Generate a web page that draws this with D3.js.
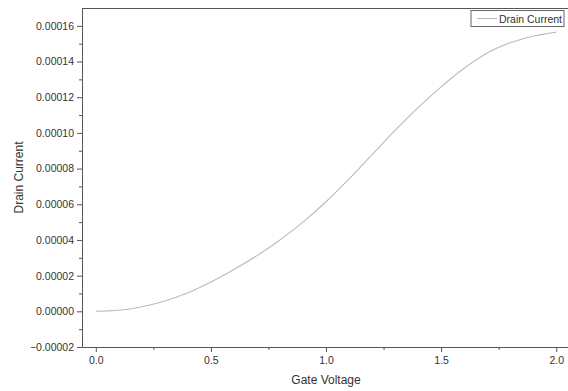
<!DOCTYPE html>
<html>
<head>
<meta charset="utf-8">
<script src="https://cdn.jsdelivr.net/npm/d3@7"></script>
<style>
  body { margin: 0; background: #fff; }
  text { font-family: 'Liberation Sans', Arial, sans-serif; fill: #333; }
</style>
</head>
<body>
<div id="chart"></div>
<script>
const gateVoltage = [0.0, 0.1, 0.2, 0.3, 0.4, 0.5, 0.6, 0.7, 0.8, 0.9, 1.0,
  1.1, 1.2, 1.3, 1.4, 1.5, 1.6, 1.7, 1.8, 1.9, 2.0]
const drainCurrent = [0, 0.0000006, 0.0000026, 0.0000058, 0.0000104, 0.0000164,
  0.0000234, 0.0000312, 0.00004, 0.00005, 0.0000614, 0.0000742, 0.0000878,
  0.0001014, 0.0001142, 0.0001258, 0.0001362, 0.0001448, 0.0001505, 0.0001542, 0.0001565]
const xTicks = [0, 0.5, 1.0, 1.5, 2.0]
const xMinorTicks = [0.25, 0.75, 1.25, 1.75]
const yTicks = [-0.00002, 0, 0.00002, 0.00004, 0.00006, 0.00008, 0.0001, 0.00012, 0.00014, 0.00016]
const yMinorTicks = [-0.00001, 0.00001, 0.00003, 0.00005, 0.00007, 0.00009, 0.00011, 0.00013, 0.00015]
const seriesName = 'Drain Current'

const data = gateVoltage.map((v, i) => ({ v: v, i: drainCurrent[i] }))

const width = 568
const height = 391
const margin = { top: 8, left: 82, right: -2, bottom: 44 }

const svg = d3
  .select('#chart')
  .append('svg')
  .attr('width', width)
  .attr('height', height)

const x = d3
  .scaleLinear()
  .domain([-0.06, 2.06])
  .range([margin.left, width - margin.right])

const y = d3
  .scaleLinear()
  .domain([-0.00002, 0.00017])
  .range([height - margin.bottom, margin.top])

const axisColor = '#555'

// top frame line
svg
  .append('line')
  .attr('x1', x.range()[0])
  .attr('x2', x.range()[1])
  .attr('y1', margin.top + 0.5)
  .attr('y2', margin.top + 0.5)
  .attr('stroke', axisColor)

// minor ticks first
svg
  .append('g')
  .attr('transform', 'translate(0,' + (height - margin.bottom) + ')')
  .call(d3.axisBottom(x).tickValues(xMinorTicks).tickSize(3).tickSizeOuter(0).tickFormat(''))
  .call(g => g.select('.domain').remove())
  .selectAll('line')
  .attr('stroke', axisColor)

svg
  .append('g')
  .attr('transform', 'translate(' + margin.left + ',0)')
  .call(d3.axisLeft(y).tickValues(yMinorTicks).tickSize(3).tickSizeOuter(0).tickFormat(''))
  .call(g => g.select('.domain').remove())
  .selectAll('line')
  .attr('stroke', axisColor)

const xAxis = d3
  .axisBottom(x)
  .tickValues(xTicks)
  .tickSize(5)
  .tickSizeOuter(0)
  .tickPadding(5)
  .tickFormat(d3.format('.1f'))

const yAxis = d3
  .axisLeft(y)
  .tickValues(yTicks)
  .tickSize(5)
  .tickSizeOuter(0)
  .tickPadding(3)
  .tickFormat(d3.format('.5f'))

const gx = svg
  .append('g')
  .attr('transform', 'translate(0,' + (height - margin.bottom) + ')')
  .call(xAxis)

const gy = svg
  .append('g')
  .attr('transform', 'translate(' + margin.left + ',0)')
  .call(yAxis)

;[gx, gy].forEach(g => {
  g.select('.domain').attr('stroke', axisColor)
  g.selectAll('.tick line').attr('stroke', axisColor)
  g.selectAll('.tick text')
    .style('font-size', '10.5px')
    .style('font-family', "'Liberation Sans', Arial, sans-serif")
    .attr('fill', '#333')
})

// axis titles
svg
  .append('text')
  .attr('x', (x.range()[0] + x.range()[1]) / 2)
  .attr('y', 384)
  .style('text-anchor', 'middle')
  .style('font-size', '12px')
  .text('Gate Voltage')

svg
  .append('text')
  .attr('transform', 'translate(23,' + (y.range()[0] + y.range()[1]) / 2 + ') rotate(-90)')
  .style('text-anchor', 'middle')
  .style('font-size', '12px')
  .text('Drain Current')

// the curve
const line = d3
  .line()
  .x(d => x(d.v))
  .y(d => y(d.i))
  .curve(d3.curveMonotoneX)

svg
  .append('path')
  .datum(data)
  .attr('d', line)
  .attr('fill', 'none')
  .attr('stroke', '#bbb')
  .attr('stroke-width', 1.1)

// legend
const legend = svg.append('g').attr('transform', 'translate(471,10.5)')

legend
  .append('rect')
  .attr('width', 93)
  .attr('height', 16)
  .attr('fill', '#fff')
  .attr('stroke', '#666')

legend
  .append('line')
  .attr('x1', 6)
  .attr('x2', 26)
  .attr('y1', 8)
  .attr('y2', 8)
  .attr('stroke', '#bbb')
  .attr('stroke-width', 1.1)

legend
  .append('text')
  .attr('x', 28)
  .attr('y', 12)
  .style('font-size', '10.5px')
  .text(seriesName)
</script>
</body>
</html>
